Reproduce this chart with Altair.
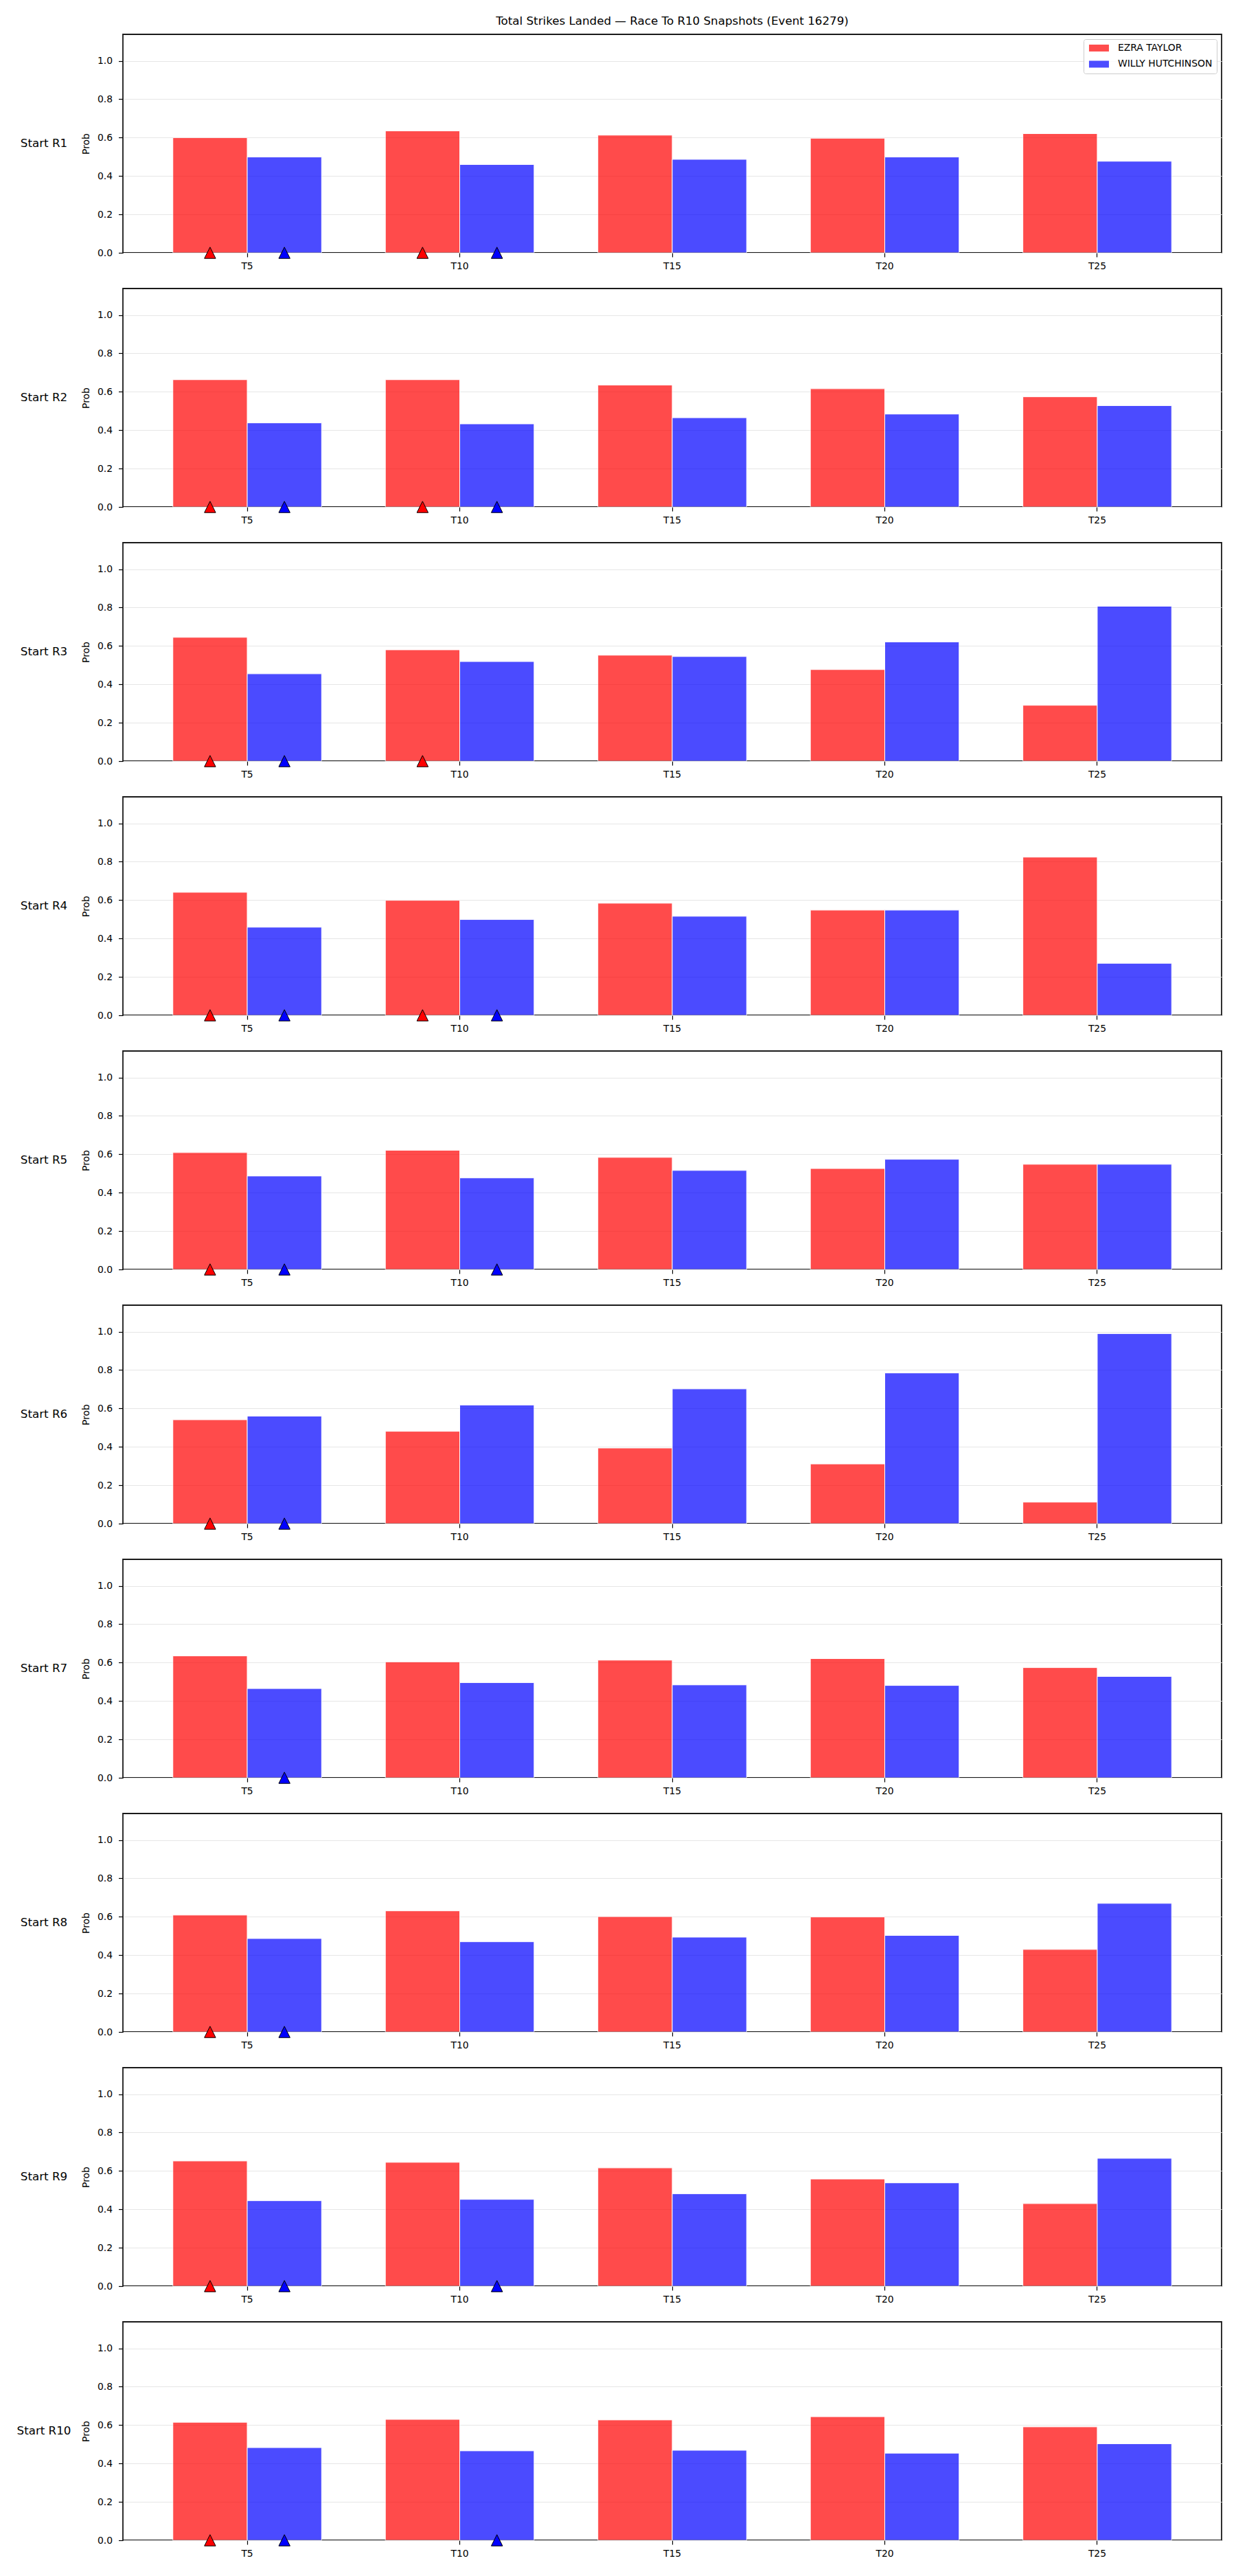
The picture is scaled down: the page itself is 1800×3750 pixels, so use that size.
import altair as alt
import pandas as pd

players = ["EZRA TAYLOR", "WILLY HUTCHINSON"]
thresholds = ["T5", "T10", "T15", "T20", "T25"]
starts = ["Start R1", "Start R2", "Start R3", "Start R4", "Start R5",
          "Start R6", "Start R7", "Start R8", "Start R9", "Start R10"]

ezra = [
    [0.600, 0.635, 0.613, 0.597, 0.621],
    [0.663, 0.663, 0.635, 0.616, 0.574],
    [0.645, 0.580, 0.552, 0.477, 0.291],
    [0.641, 0.599, 0.584, 0.548, 0.824],
    [0.609, 0.621, 0.584, 0.526, 0.548],
    [0.541, 0.481, 0.394, 0.311, 0.112],
    [0.635, 0.604, 0.613, 0.621, 0.574],
    [0.609, 0.631, 0.601, 0.599, 0.430],
    [0.652, 0.645, 0.616, 0.558, 0.430],
    [0.615, 0.630, 0.627, 0.644, 0.591],
]
willy = [
    [0.499, 0.460, 0.487, 0.499, 0.477],
    [0.438, 0.433, 0.465, 0.484, 0.528],
    [0.455, 0.519, 0.545, 0.621, 0.807],
    [0.459, 0.499, 0.516, 0.548, 0.271],
    [0.487, 0.477, 0.516, 0.574, 0.548],
    [0.560, 0.618, 0.702, 0.785, 0.990],
    [0.465, 0.496, 0.484, 0.481, 0.528],
    [0.487, 0.470, 0.494, 0.503, 0.670],
    [0.445, 0.452, 0.481, 0.538, 0.666],
    [0.483, 0.466, 0.469, 0.454, 0.503],
]
ezra_markers = [["T5", "T10"], ["T5", "T10"], ["T5", "T10"], ["T5", "T10"], ["T5"],
                ["T5"], [], ["T5"], ["T5"], ["T5"]]
willy_markers = [["T5", "T10"], ["T5", "T10"], ["T5"], ["T5", "T10"], ["T5", "T10"],
                 ["T5"], ["T5"], ["T5"], ["T5", "T10"], ["T5", "T10"]]

title_text = "Total Strikes Landed \u2014 Race To R10 Snapshots (Event 16279)"
colors = ["#ff0000", "#0000ff"]
FONT = "DejaVu Sans"
W, H = 1600, 318
YMAX = 1.138

legend_path = "M-1,-1L4.8,-1L4.8,1L-1,1Z"


def panel(i):
    rows = []
    for j, t in enumerate(thresholds):
        rows.append({"threshold": t, "player": players[0], "prob": ezra[i][j]})
        rows.append({"threshold": t, "player": players[1], "prob": willy[i][j]})
    df = pd.DataFrame(rows)
    mk = [{"threshold": t, "player": players[0]} for t in ezra_markers[i]] + \
         [{"threshold": t, "player": players[1]} for t in willy_markers[i]]
    mdf = pd.DataFrame(mk, columns=["threshold", "player"])

    x = alt.X("threshold:N", sort=thresholds,
              scale=alt.Scale(domain=thresholds, paddingInner=0, paddingOuter=0.085),
              axis=alt.Axis(title=None, labelAngle=0, domain=False, grid=False,
                            tickSize=6, tickWidth=1.2, tickColor="black",
                            labelPadding=6, labelFontSize=13.9, labelColor="black",
                            labelFont=FONT))
    xo = alt.XOffset("player:N", sort=players,
                     scale=alt.Scale(domain=players, paddingInner=0, paddingOuter=0.4286))
    y = alt.Y("prob:Q",
              scale=alt.Scale(domain=[0, YMAX], nice=False, zero=True),
              axis=alt.Axis(title="Prob", values=[0, 0.2, 0.4, 0.6, 0.8, 1.0],
                            format=".1f", domain=False, grid=True,
                            gridColor="#e6e6e6", gridWidth=1,
                            tickSize=6.5, tickWidth=1.2, tickColor="black",
                            labelPadding=9, labelFontSize=13.9, labelColor="black",
                            labelFont=FONT, titleFont=FONT, titleFontSize=13.9,
                            titleFontWeight="normal", titleColor="black",
                            titlePadding=9))
    if i == 0:
        legend = alt.Legend(title=None, orient="top-right", offset=7,
                            fillColor="rgba(255,255,255,0.8)", strokeColor="#cccccc",
                            cornerRadius=3, padding=6, labelFontSize=13.9,
                            labelFont=FONT, labelColor="black",
                            symbolType=legend_path, symbolSize=100,
                            symbolOpacity=0.7, symbolStrokeWidth=0,
                            labelOffset=30, rowPadding=8.5, labelLimit=400)
    else:
        legend = None
    color = alt.Color("player:N", sort=players,
                      scale=alt.Scale(domain=players, range=colors), legend=legend)

    bars = alt.Chart(df).mark_bar(opacity=0.7, stroke="white", strokeWidth=1).encode(
        x=x, xOffset=xo, y=y, color=color)

    tri = alt.Chart(mdf).mark_point(
        shape="M0,-1L1,1L-1,1Z", size=270, filled=True, opacity=1,
        stroke="black", strokeWidth=1
    ).encode(
        x=alt.X("threshold:N", sort=thresholds),
        xOffset=alt.XOffset("player:N", sort=players),
        y=alt.datum(0),
        fill=alt.Fill("player:N", sort=players,
                      scale=alt.Scale(domain=players, range=colors), legend=None),
    )

    lab = alt.Chart(pd.DataFrame({"label": [starts[i]]})).mark_text(
        align="center", baseline="middle", fontSize=16.7, font=FONT, color="black"
    ).encode(text="label:N", x=alt.value(-115), y=alt.value(H / 2))

    layer = alt.layer(bars, tri, lab).properties(width=W, height=H)
    if i == 0:
        layer = layer.properties(title=alt.TitleParams(
            text=title_text, fontSize=16.7, fontWeight="normal", font=FONT,
            color="black", anchor="middle", frame="group", offset=10))
    return layer


chart = alt.vconcat(*[panel(i) for i in range(10)], spacing=52, bounds="flush")
chart = chart.resolve_legend(color="independent", fill="independent").resolve_scale(
    color="independent", fill="independent"
).properties(
    padding={"left": 23, "top": 22, "right": 20, "bottom": 10},
    background="white",
).configure(font=FONT).configure_view(stroke="#1a1a1a", strokeWidth=1.8)

chart.save("out.html", embed_options={"renderer": "svg", "actions": False})
